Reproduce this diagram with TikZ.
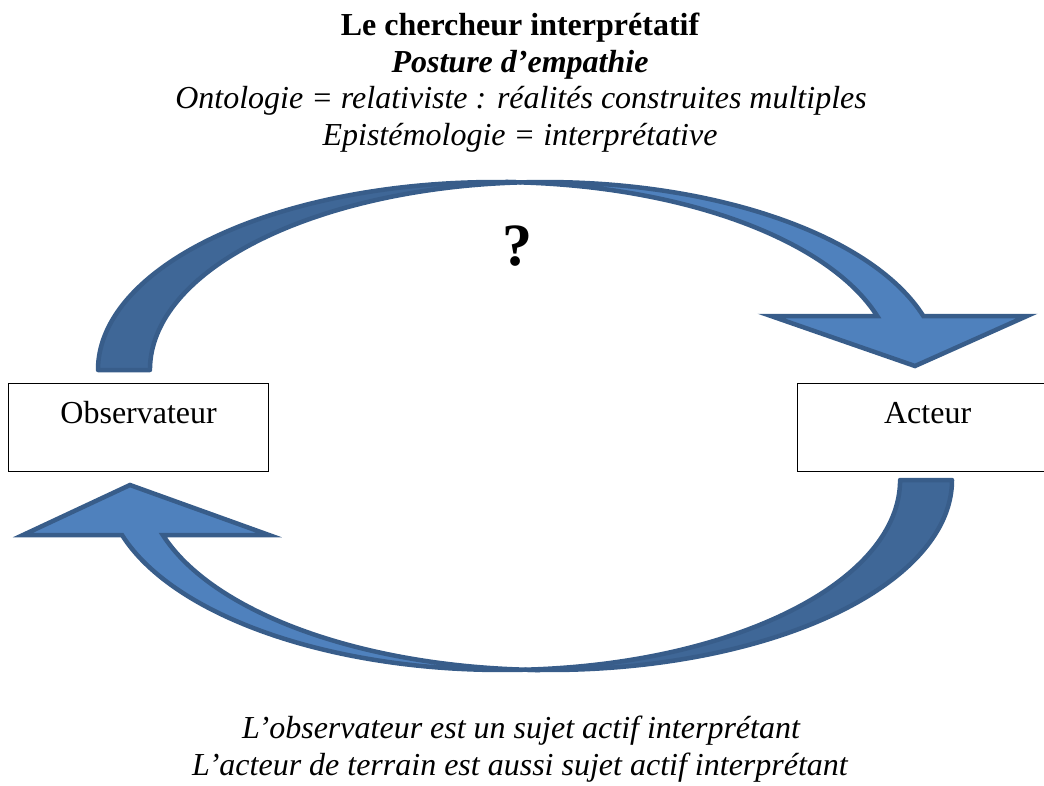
\documentclass[tikz,border=0pt]{standalone}
\usepackage{fontspec}
\setmainfont{Liberation Serif}
\definecolor{arrowfront}{HTML}{4F81BD}
\definecolor{arrowback}{HTML}{3F6797}
\definecolor{arrowline}{HTML}{385D8A}
\newcommand\bodysize{\fontsize{32}{37}\selectfont}

\begin{document}
\begin{tikzpicture}[x=1pt,y=-1pt,
  txt/.style={inner sep=0pt, anchor=base},
  box/.style={draw=black, line width=1.3pt, fill=white, inner sep=0pt,
    minimum width=260pt, text height=40pt, text depth=48pt,
    font=\bodysize, anchor=north west},
  front/.style={fill=arrowfront, draw=arrowline, line width=4.5pt, line join=miter},
  back/.style={fill=arrowback, draw=arrowline, line width=4.5pt, line join=round},
]
\useasboundingbox (0,0) rectangle (1044,785);
\clip (0,0) rectangle (1044,785);

% heading
\node[txt, font=\bodysize\bfseries] (t1) at (520,35) {Le chercheur interprétatif};
\node[txt, font=\bodysize\bfseries\itshape] (t2) at (520,72) {Posture d’empathie};
\node[txt, font=\bodysize\itshape] (t3) at (521,108) {Ontologie = relativiste : réalités construites multiples};
\node[txt, font=\bodysize\itshape] (t4) at (520,145) {Epistémologie = interprétative};

% the two actors
\node[box] (obs) at (8,383) {Observateur};
\node[box] (act) at (797,383) {Acteur};

% upper curved arrow: observer -> actor
\path[back] (98,370) arc[start angle=180, end angle=273.54, x radius=398, y radius=188]
  arc[start angle=266.46, end angle=180, x radius=395, y radius=188] -- cycle;
\path[front] (520.6,182.4) arc[start angle=266.46, end angle=343.3, x radius=395, y radius=188]
  -- (1027,316) -- (915,366) -- (771,316) -- (877.2,316)
  arc[start angle=343.3, end angle=273.54, x radius=398, y radius=188] -- cycle;

% lower curved arrow: actor -> observer
\path[back] (952,480) arc[start angle=0, end angle=93.31, x radius=403.2, y radius=190]
  arc[start angle=86.69, end angle=0, x radius=397.5, y radius=190] -- cycle;
\path[front] (525.5,669.7) arc[start angle=93.31, end angle=163.17, x radius=403.2, y radius=190]
  -- (269,535) -- (130,485) -- (23,535) -- (122.0,535)
  arc[start angle=163.17, end angle=86.69, x radius=397.5, y radius=190] -- cycle;

\node[txt, font=\fontsize{60}{60}\selectfont\bfseries] (q) at (517,265) {?};

% closing remarks
\node[txt, font=\bodysize\itshape] (b1) at (521,738) {L’observateur est un sujet actif interprétant};
\node[txt, font=\bodysize\itshape] (b2) at (520,775) {L’acteur de terrain est aussi sujet actif interprétant};
\end{tikzpicture}
\end{document}
